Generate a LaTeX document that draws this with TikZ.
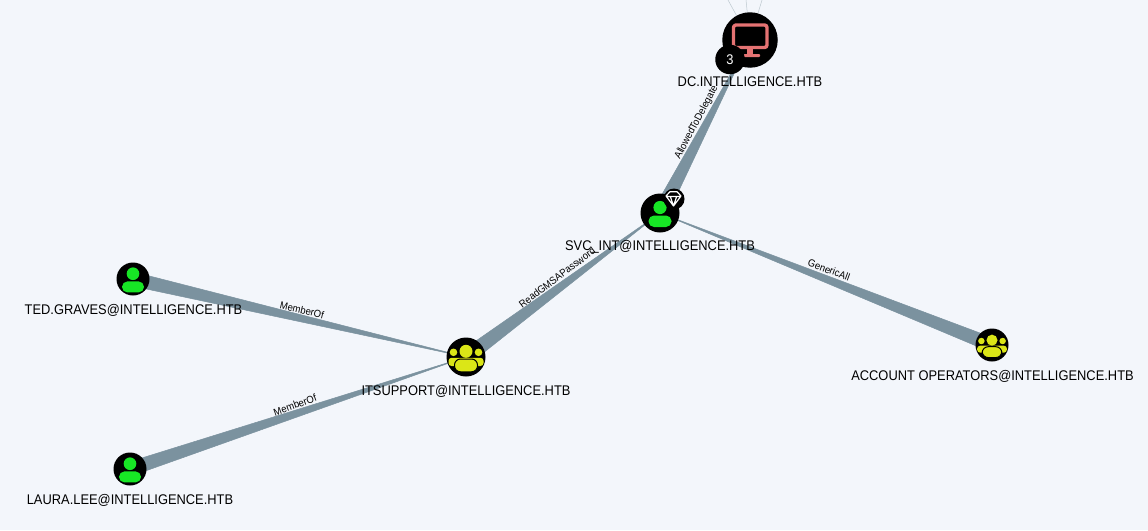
\documentclass[tikz,border=0pt]{standalone}
\usepackage{fontspec}
\setmainfont{Liberation Sans}
\newfontfamily\labelfont[FakeStretch=0.92]{Liberation Sans}
\usetikzlibrary{calc}
\definecolor{bgcol}{HTML}{F3F6FB}
\definecolor{edgecol}{HTML}{7B929F}
\definecolor{usercol}{HTML}{17E625}
\definecolor{groupcol}{HTML}{DBE617}
\definecolor{compcol}{HTML}{E57373}
\newcommand{\edgewedge}[3]{\fill[edgecol,draw=edgecol,line width=0.5pt] ($(#1)!#3!90:(#2)$) -- (#2) -- ($(#1)!#3!-90:(#2)$) -- cycle;}
\tikzset{
	objnode/.style={circle,fill=black,inner sep=0pt,minimum size=#1},
	objlabel/.style={font=\labelfont\fontsize{14}{14}\selectfont,inner sep=0pt},
	edgelabel/.style={font=\labelfont\fontsize{10.3}{10}\selectfont,inner sep=0pt},
	personicon/.pic={
		\fill[usercol] (0,-5.5) circle (6.6);
		\fill[usercol,rounded corners=5.5] (-11.5,14) rectangle (11.5,2.5);
	},
	groupicon/.pic={
		\fill[groupcol] (-12.5,-4.7) circle (3.8);
		\fill[groupcol] (12.5,-4.7) circle (3.8);
		\fill[groupcol,rounded corners=3] (-17.5,9) rectangle (17.5,0.8);
		\fill[groupcol] (0,-5.7) circle (6.5);
		\fill[groupcol,draw=black,line width=1pt,rounded corners=6] (-11.5,14.8) rectangle (11.5,2);
	},
}
\begin{document}
\begin{tikzpicture}[x=1pt,y=-1pt,line join=round]
	\useasboundingbox[fill=bgcol] (0,0) rectangle (1148,530);
	% end points of the edges first
	\coordinate (dc) at (750,40);
	\coordinate (svc) at (660,213);
	\coordinate (itsupport) at (466,357);
	\coordinate (ted) at (133,279);
	\coordinate (laura) at (130,469);
	\coordinate (account) at (992,345);
	\coordinate (upa) at (728,0);
	\coordinate (upb) at (746,0);
	\coordinate (upc) at (762,0);
	\draw[edgecol!50,line width=0.5pt] (dc)--(upa);
	\draw[edgecol!50,line width=0.5pt] (dc)--(upb);
	\draw[edgecol!50,line width=0.5pt] (dc)--(upc);
	\edgewedge{svc}{dc}{7.5pt}
	\edgewedge{itsupport}{svc}{7.5pt}
	\edgewedge{ted}{itsupport}{7pt}
	\edgewedge{laura}{itsupport}{7pt}
	\edgewedge{account}{svc}{7pt}
	% nodes
	\node[objnode=55.5pt] (dcnode) at (dc) {};
	\node[objnode=39pt] (svcnode) at (svc) {};
	\node[objnode=39pt] (itnode) at (itsupport) {};
	\node[objnode=33pt] (tednode) at (ted) {};
	\node[objnode=33pt] (lauranode) at (laura) {};
	\node[objnode=33pt] (accountnode) at (account) {};
	\pic at (svc) {personicon};
	\pic[scale=0.96] at (ted) {personicon};
	\pic[scale=0.96] at (laura) {personicon};
	\pic at (itsupport) {groupicon};
	\pic[scale=0.85] at (account) {groupicon};
	% computer icon
	\draw[compcol,line width=3.4pt,rounded corners=2.5] (733.5,25) rectangle (767,47.5);
	\fill[compcol] (747,48) rectangle (753,55);
	\fill[compcol,rounded corners=1] (743.5,54) rectangle (760,57);
	\node[objnode=29.5pt,text=white,font=\labelfont\fontsize{14}{14}\selectfont] (dcbadge) at (730,59.5) {3};
	% gem badge
	\node[objnode=21pt] (gembadge) at (674,199) {};
	\draw[white,line width=1.2pt] (666,196)--(670,191.7)--(677,191.7)--(681,196)--(673.5,206)--cycle (666,196.5)--(681,196.5) (670.5,197)--(673.5,206)--(676.5,197);
	% labels
	\node[objlabel] (dclabel) at (750,82) {DC.INTELLIGENCE.HTB};
	\node[objlabel] (svclabel) at (660,246.5) {SVC\_INT@INTELLIGENCE.HTB};
	\node[objlabel] (itlabel) at (466,391.5) {ITSUPPORT@INTELLIGENCE.HTB};
	\node[objlabel] (tedlabel) at (133.5,310.5) {TED.GRAVES@INTELLIGENCE.HTB};
	\node[objlabel] (lauralabel) at (130,500.5) {LAURA.LEE@INTELLIGENCE.HTB};
	\node[objlabel] (accountlabel) at (992.5,376.5) {ACCOUNT OPERATORS@INTELLIGENCE.HTB};
	\node[edgelabel,rotate=62] (delegatelabel) at (696.5,122.5) {AllowedToDelegate};
	\node[edgelabel,rotate=37] (gmsalabel) at (557,277.5) {ReadGMSAPassword};
	\node[edgelabel,rotate=-20] (genericlabel) at (829,270) {GenericAll};
	\node[edgelabel,rotate=-13] (tedmember) at (302,310) {MemberOf};
	\node[edgelabel,rotate=20] (lauramember) at (295,405) {MemberOf};
\end{tikzpicture}
\end{document}
